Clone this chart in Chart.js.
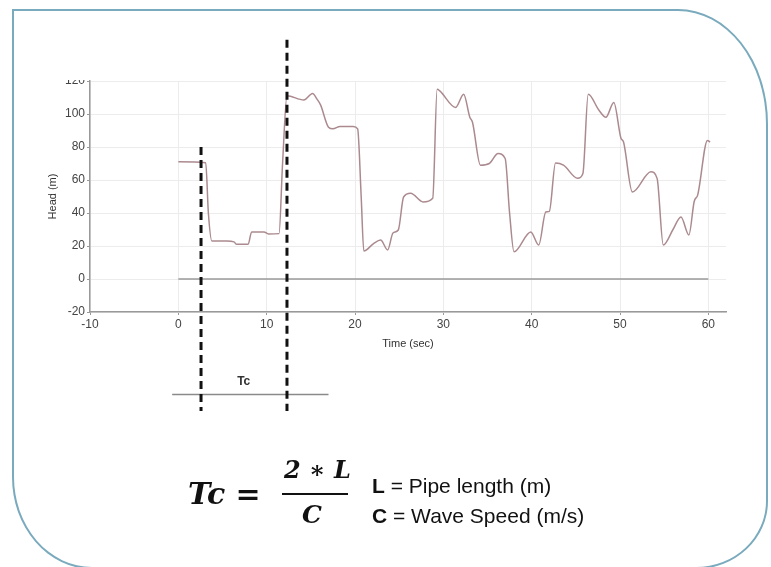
<!DOCTYPE html>
<html>
<head>
<meta charset="utf-8">
<script src="https://cdn.jsdelivr.net/npm/chart.js@4/dist/chart.umd.min.js"></script>
<style>
  html, body { margin: 0; padding: 0; background: #fff; }
  body { width: 771px; height: 567px; position: relative; overflow: hidden; font-family: "Liberation Sans", Arial, sans-serif; }
  #frame {
    position: absolute; left: 12px; top: 9px; width: 756px; height: 560px;
    box-sizing: border-box; border: 2.5px solid #7aaabd;
    border-radius: 0 90px 72px 80px / 0 115px 68px 92px;
  }
  #wrap { position: absolute; left: 0; top: 0; width: 771px; height: 567px; }
  .f { position: absolute; white-space: nowrap; }
  .math { font-family: "DejaVu Serif", serif; font-weight: bold; font-style: italic; color: #111; }
  .note { font-size: 21px; color: #111; }
</style>
</head>
<body>
<div id="frame"></div>
<div id="wrap"><canvas id="chart" width="771" height="567"></canvas></div>

<div class="f math" style="left:188px; top:476px; font-size:30px;">Tc =</div>
<div class="f math" style="left:284px; top:455px; font-size:24px;">2 ∗ L</div>
<div style="position:absolute; left:282px; top:493px; width:66px; height:2px; background:#111;"></div>
<div class="f math" style="left:302px; top:500px; font-size:25px;">C</div>
<div class="f note" style="left:372px; top:474px;"><b>L</b> = Pipe length (m)</div>
<div class="f note" style="left:372px; top:504px;"><b>C</b> = Wave Speed (m/s)</div>

<script>
// head trace
const timeSec = [0, 3.1, 3.4, 3.8, 5.5, 6.3, 6.6, 7.9, 8.3, 9.7, 10.2, 11.4,
  11.8, 12.3, 14.2, 15.2, 15.7, 16.1, 17.0, 17.5, 18.3, 19.8, 20.3, 20.7,
  21.0, 22.1, 22.9, 23.7, 24.3, 24.9, 25.5, 26.3, 27.7, 28.8, 29.3, 29.6,
  31.4, 32.3, 33.0, 33.3, 34.2, 35.2, 36.2, 37.0, 37.5, 38.0, 39.9, 40.8,
  41.6, 42.0, 42.7, 43.6, 45.2, 45.8, 46.4, 47.6, 48.4, 49.3, 50.1, 50.4,
  51.4, 53.5, 54.2, 54.9, 56.0, 56.9, 57.8, 58.4, 58.8, 59.9, 60.2];
const headM = [71, 70.5, 40, 23, 23, 22.5, 21, 21, 28.5, 28.5, 27.3, 27.5,
  70, 111, 108.5, 112.5, 109, 105.5, 92, 91, 92.5, 92.5, 91, 50,
  17, 21.5, 23.6, 17.6, 27.9, 29.7, 49.7, 52, 46.7, 49, 115, 114,
  104, 112, 98, 95, 69, 70, 76, 73, 40, 16.5, 28.5, 20.6,
  40.6, 41, 70.3, 69, 61, 64, 112, 102.4, 98, 107, 85.5, 83,
  52.7, 65, 61, 20.6, 30, 37.6, 26.7, 47, 51, 84, 83];

const zeroX = [0, 60];
const zeroY = [0, 0];

// Tc annotation
const dash1X = [2.57, 2.57], dash1Y = [80, -80];
const dash2X = [12.3, 12.3], dash2Y = [145, -80];
const tcLineX = [-0.7, 17], tcLineY = [-70, -70];
const tcLabel = { x: 7.4, y: -62.5, text: 'Tc' };

const xTicks = [-10, 0, 10, 20, 30, 40, 50, 60];
const yTicks = [-20, 0, 20, 40, 60, 80, 100, 120];

function pts(xs, ys) {
    return xs.map((x, i) => ({ x: x, y: ys[i] }));
}

const extras = {
    id: 'extras',
    afterDraw(chart) {
        const ctx = chart.ctx;
        const xs = chart.scales.x, ys = chart.scales.y;
        ctx.save();
        // the top of the picture is cropped through the "120" label
        ctx.fillStyle = '#fff';
        ctx.fillRect(50, 60, 38, 20);
        ctx.fillStyle = '#333';
        ctx.font = 'bold 12px "Liberation Sans", Arial, sans-serif';
        ctx.textAlign = 'center';
        ctx.textBaseline = 'middle';
        ctx.fillText(tcLabel.text, xs.getPixelForValue(tcLabel.x), ys.getPixelForValue(tcLabel.y));
        ctx.restore();
    }
};

const dashStyle = {
    borderColor: '#111', borderWidth: 3, borderDash: [8, 5],
    pointRadius: 0, showLine: true, clip: false
};

new Chart(document.getElementById('chart'), {
    type: 'scatter',
    data: {
        datasets: [
            Object.assign({ data: pts(dash1X, dash1Y) }, dashStyle),
            Object.assign({ data: pts(dash2X, dash2Y) }, dashStyle),
            {
                data: pts(tcLineX, tcLineY),
                borderColor: '#8a8a8a', borderWidth: 1.5,
                pointRadius: 0, showLine: true, clip: false
            },
            {
                data: pts(timeSec, headM),
                borderColor: '#ab8a8f', borderWidth: 1.5,
                pointRadius: 0, showLine: true,
                cubicInterpolationMode: 'monotone'
            },
            {
                data: pts(zeroX, zeroY),
                borderColor: '#9a9a9a', borderWidth: 1.5,
                pointRadius: 0, showLine: true
            }
        ]
    },
    options: {
        responsive: false,
        animation: false,
        events: [],
        layout: { padding: { left: 46, right: 45, top: 81, bottom: 216 } },
        scales: {
            x: {
                min: -10, max: 62,
                afterBuildTicks: s => { s.ticks = xTicks.map(v => ({ value: v })); },
                afterFit: s => { s.height = 39; },
                grid: { color: '#ececec', tickLength: 3, tickColor: '#999' },
                border: { color: '#999', width: 1.5 },
                ticks: { color: '#444', font: { size: 12, family: '"Liberation Sans", Arial' }, padding: 2 },
                title: { display: true, text: 'Time (sec)', color: '#333',
                    font: { size: 11, family: '"Liberation Sans", Arial' }, padding: 0 }
            },
            y: {
                min: -20, max: 120,
                afterBuildTicks: s => { s.ticks = yTicks.map(v => ({ value: v })); },
                afterFit: s => { s.width = 44; },
                grid: { color: '#ececec', tickLength: 3, tickColor: '#999' },
                border: { color: '#999', width: 1.5 },
                ticks: { color: '#444', font: { size: 12, family: '"Liberation Sans", Arial' }, padding: 2 },
                title: { display: true, text: 'Head (m)', color: '#333',
                    font: { size: 11, family: '"Liberation Sans", Arial' }, padding: 0 }
            }
        },
        plugins: {
            legend: { display: false },
            tooltip: { enabled: false }
        }
    },
    plugins: [extras]
});
</script>
</body>
</html>
